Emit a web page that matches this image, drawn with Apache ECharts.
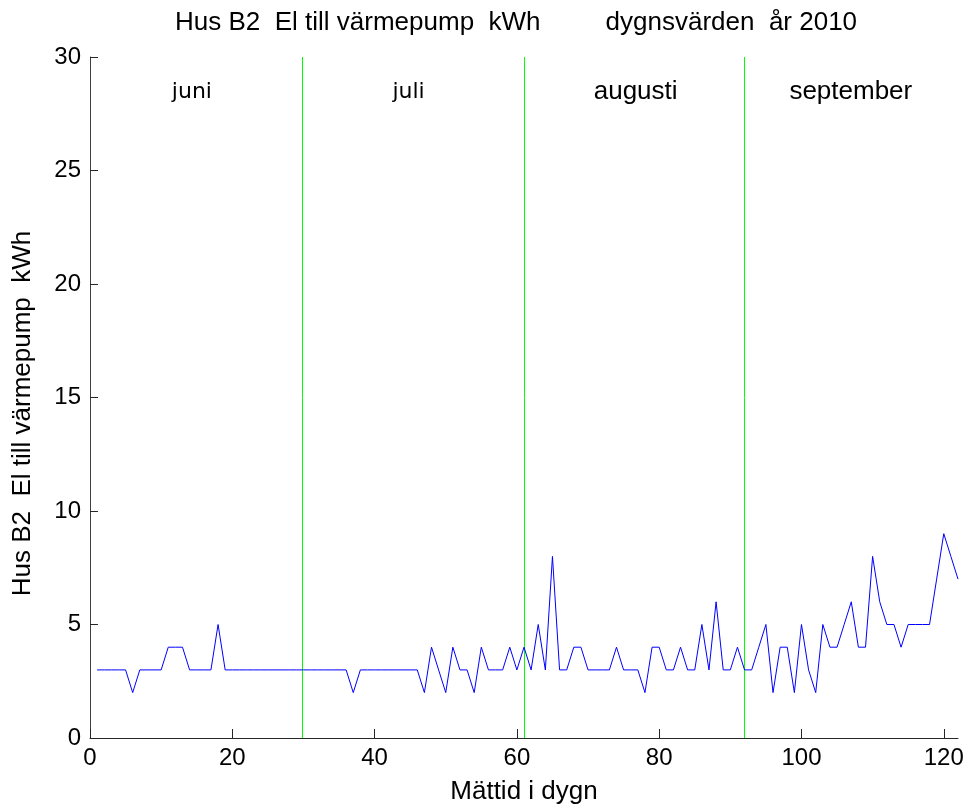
<!DOCTYPE html>
<html>
<head>
<meta charset="utf-8">
<script src="https://cdn.jsdelivr.net/npm/echarts@6/dist/echarts.min.js"></script>
<style>
  html, body { margin: 0; padding: 0; background: #fff; }
  #chart { width: 968px; height: 810px; }
</style>
</head>
<body>
<div id="chart"></div>
<script>
// dygnsvärden, dag 1..122 (juni - september 2010)
var kwh = [
  // juni (1-30)
  3, 3, 3, 3, 3, 2, 3, 3, 3, 3, 4, 4, 4, 3, 3, 3, 3, 5, 3, 3,
  3, 3, 3, 3, 3, 3, 3, 3, 3, 3,
  // juli (31-61)
  3, 3, 3, 3, 3, 3, 2, 3, 3, 3, 3, 3, 3, 3, 3, 3, 2, 4, 3, 2,
  4, 3, 3, 2, 4, 3, 3, 3, 4, 3, 4,
  // augusti (62-92)
  3, 5, 3, 8, 3, 3, 4, 4, 3, 3, 3, 3, 4, 3, 3, 3, 2, 4, 4, 3,
  3, 4, 3, 3, 5, 3, 6, 3, 3, 4, 3,
  // september (93-122)
  3, 4, 5, 2, 4, 4, 2, 5, 3, 2, 5, 4, 4, 5, 6, 4, 4, 8, 6, 5,
  5, 4, 5, 5, 5, 5, 7, 9, 8, 7
];

// månadsgränser (dag)
var monthBreaks = [30, 61, 92];

// månadsetiketter: namn, x (dag), y (kWh)
var monthNames = ['juni', 'juli', 'augusti', 'september'];
var monthLabelX = [11.5, 42.5, 70.8, 98.3];
var monthLabelY = [28.45, 28.45, 28.45, 28.45];

var xTicks = [0, 20, 40, 60, 80, 100, 120];

var titleText = 'Hus B2  El till värmepump  kWh         dygnsvärden  år 2010';
var yName = 'Hus B2  El till värmepump  kWh';
var xName = 'Mättid i dygn';

var lineData = kwh.map(function (v, i) { return [i + 1, v]; });
var labelData = monthNames.map(function (n, i) {
    return [monthLabelX[i], monthLabelY[i], i];
});

var chart = echarts.init(document.getElementById('chart'));
var font = 'Liberation Sans';
var green = '#00ff00';

chart.setOption({
    animation: false,
    backgroundColor: '#fff',
    title: {
        text: titleText,
        left: 175,
        top: 10,
        padding: 0,
        textStyle: { fontFamily: font, fontSize: 26, fontWeight: 'normal', color: '#000' }
    },
    grid: { left: 90, right: 10, top: 57, bottom: 69, containLabel: false },
    xAxis: {
        type: 'value',
        min: 0,
        max: 122,
        interval: 20,
        name: xName,
        nameLocation: 'middle',
        nameGap: 41,
        nameTextStyle: { fontFamily: font, fontSize: 26, color: '#000' },
        axisLine: { show: true, lineStyle: { color: '#262626', width: 1 } },
        axisTick: { show: true, inside: true, length: 9, lineStyle: { color: '#262626' }, customValues: xTicks },
        axisLabel: { fontFamily: font, fontSize: 24, color: '#000', margin: 8, customValues: xTicks },
        splitLine: { show: false }
    },
    yAxis: {
        type: 'value',
        min: 0,
        max: 30,
        interval: 5,
        name: yName,
        nameLocation: 'middle',
        nameGap: 54,
        nameTextStyle: { fontFamily: font, fontSize: 26, color: '#000', padding: [0, 32, 0, 0] },
        axisLine: { show: true, lineStyle: { color: '#404040', width: 1 } },
        axisTick: { show: true, inside: true, length: 8, lineStyle: { color: '#262626' } },
        axisLabel: { fontFamily: font, fontSize: 24, color: '#000', margin: 9 },
        splitLine: { show: false }
    },
    series: [{
        type: 'line',
        data: lineData,
        symbol: 'none',
        z: 3,
        lineStyle: { color: '#0000ff', width: 1 },
        emphasis: { disabled: true }
    }, {
        // månadsgränser som gröna lodräta linjer (pixel-snappade)
        type: 'custom',
        data: monthBreaks,
        silent: true,
        z: 2,
        renderItem: function (params, api) {
            var bottom = api.coord([api.value(0), 0]);
            var top = api.coord([api.value(0), 30]);
            var x = 2 * Math.floor(bottom[0] / 2) + 0.5;
            return {
                type: 'line',
                shape: { x1: x, y1: bottom[1], x2: x, y2: top[1] },
                style: { stroke: green, lineWidth: 1 }
            };
        }
    }, {
        type: 'custom',
        data: labelData,
        silent: true,
        renderItem: function (params, api) {
            var p = api.coord([api.value(0), api.value(1)]);
            var i = api.value(2);
            var small = i < 2;
            return {
                type: 'text',
                x: p[0],
                y: p[1],
                style: {
                    text: monthNames[i],
                    fill: '#000',
                    fontFamily: small ? 'DejaVu Sans' : font,
                    fontSize: small ? 22 : 26,
                    align: 'left',
                    verticalAlign: 'middle'
                }
            };
        }
    }]
});
</script>
</body>
</html>
